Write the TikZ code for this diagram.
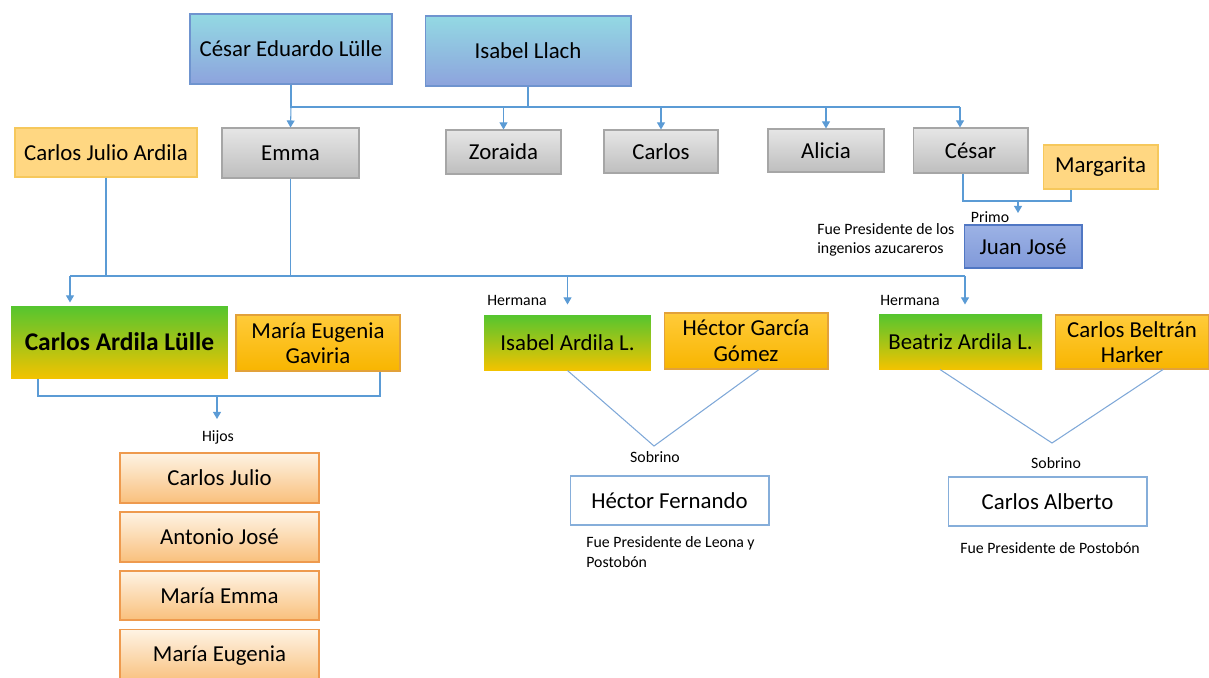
\documentclass[tikz,border=0pt]{standalone}
\usepackage{fontspec}
\setmainfont{Carlito}
\usetikzlibrary{arrows.meta}
\definecolor{linea}{HTML}{5B9BD5}
\definecolor{lineav}{HTML}{7FA8D8}
\definecolor{azulA}{HTML}{93D9E3}
\definecolor{azulB}{HTML}{8DA3DD}
\definecolor{azulborde}{HTML}{6F94CF}
\definecolor{primoA}{HTML}{9CB2E5}
\definecolor{primoB}{HTML}{8099D9}
\definecolor{primoborde}{HTML}{5077C3}
\definecolor{grisA}{HTML}{E6E6E6}
\definecolor{grisB}{HTML}{BEBEBE}
\definecolor{grisborde}{HTML}{A6A6A6}
\definecolor{crema}{HTML}{FFD782}
\definecolor{cremaborde}{HTML}{F6C85C}
\definecolor{verdeA}{HTML}{55C52F}
\definecolor{oro}{HTML}{F2C300}
\definecolor{doradoA}{HTML}{FFCB3A}
\definecolor{doradoB}{HTML}{F8B500}
\definecolor{doradoborde}{HTML}{E2A13A}
\definecolor{hijoA}{HTML}{FEF3E4}
\definecolor{hijoB}{HTML}{F9C07C}
\definecolor{hijoborde}{HTML}{EE9A4E}
\definecolor{blancoborde}{HTML}{86AEDA}

\tikzset{
  caja/.style={rectangle, inner sep=0pt, line width=0.6pt, align=center,
    font=\fontsize{13}{14.5}\selectfont},
  azul/.style={caja, draw=azulborde, top color=azulA, bottom color=azulB},
  primo/.style={caja, draw=primoborde, top color=primoA, bottom color=primoB},
  gris/.style={caja, draw=grisborde, top color=grisA, bottom color=grisB},
  cremo/.style={caja, draw=cremaborde, fill=crema},
  verde/.style={caja, top color=verdeA, bottom color=oro},
  dorado/.style={caja, draw=doradoborde, top color=doradoA, bottom color=doradoB},
  hijo/.style={caja, draw=hijoborde, top color=hijoA, bottom color=hijoB},
  blanco/.style={caja, draw=blancoborde, fill=white},
  nota/.style={inner sep=0pt, font=\fontsize{9}{11}\selectfont},
  link/.style={draw=linea, line width=0.6pt},
  arr/.style={link, -{Triangle[width=4.5pt,length=4pt]}},
  vlin/.style={draw=lineav, line width=0.6pt},
}

\begin{document}
\begin{tikzpicture}[x=0.02cm, y=-0.02cm]
\useasboundingbox (0,0) rectangle (1209,677);
% abuelos
\node (ced) at (291,49) [azul, minimum width=4.04cm, minimum height=1.40cm] {César Eduardo Lülle};
\node (isa) at (528,51) [azul, minimum width=4.12cm, minimum height=1.40cm] {Isabel Llach};
% hijos de los abuelos
\node (emma) at (290.5,153) [gris, minimum width=2.74cm, minimum height=1.00cm] {Emma};
\node (zor) at (503.5,152) [gris, minimum width=2.30cm, minimum height=0.88cm] {Zoraida};
\node (car) at (661,151.5) [gris, minimum width=2.28cm, minimum height=0.86cm] {Carlos};
\node (ali) at (826,150.5) [gris, minimum width=2.32cm, minimum height=0.86cm] {Alicia};
\node (ces) at (970.5,150.5) [gris, minimum width=2.30cm, minimum height=0.90cm] {César};
\node (mar) at (1100.5,167) [cremo, minimum width=2.30cm, minimum height=0.88cm] {Margarita};
\node (cja) at (106,152.5) [cremo, minimum width=3.64cm, minimum height=0.98cm] {Carlos Julio Ardila};
\node (jj) at (1023,246.5) [primo, minimum width=2.36cm, minimum height=0.86cm] {Juan José};
% nietos
\node (cal) at (119.5,342) [verde, minimum width=4.34cm, minimum height=1.44cm, font=\fontsize{14.5}{16}\selectfont\bfseries] {Carlos Ardila Lülle};
\node (meg) at (318,343) [dorado, minimum width=3.28cm, minimum height=1.12cm] {María Eugenia\\Gaviria};
\node (iar) at (567.5,342.5) [verde, minimum width=3.34cm, minimum height=1.10cm] {Isabel Ardila L.};
\node (hgg) at (746,341) [dorado, minimum width=3.28cm, minimum height=1.12cm] {Héctor García\\Gómez};
\node (bar) at (960.5,341.5) [verde, minimum width=3.26cm, minimum height=1.10cm] {Beatriz Ardila L.};
\node (cbh) at (1132,342) [dorado, minimum width=3.08cm, minimum height=1.08cm] {Carlos Beltrán\\Harker};
\node (hf) at (669.5,500.5) [blanco, minimum width=3.98cm, minimum height=0.98cm] {Héctor Fernando};
\node (cab) at (1047.5,501.5) [blanco, minimum width=3.98cm, minimum height=0.98cm] {Carlos Alberto};
% bisnietos
\node (k1) at (219.5,478) [hijo, minimum width=3.98cm, minimum height=1.00cm] {Carlos Julio};
\node (k2) at (219.5,537) [hijo, minimum width=3.98cm, minimum height=1.00cm] {Antonio José};
\node (k3) at (219.5,595.5) [hijo, minimum width=3.98cm, minimum height=0.98cm] {María Emma};
\node (k4) at (219.5,656) [hijo, minimum width=3.98cm, minimum height=1.06cm] {María Eugenia};
% notas
\node (primo) at (990,217) [nota] {Primo};
\node (fue1) at (817,240) [nota, anchor=west, align=left] {Fue Presidente de los\\ingenios azucareros};
\node (herm1) at (517,300) [nota] {Hermana};
\node (herm2) at (910,300) [nota] {Hermana};
\node (hijos) at (218,437) [nota] {Hijos};
\node (sob1) at (655,457) [nota] {Sobrino};
\node (sob2) at (1056,463) [nota] {Sobrino};
\node (fue2) at (586,552) [nota, anchor=west, align=left] {Fue Presidente de Leona y\\Postobón};
\node (fue3) at (1050,548) [nota] {Fue Presidente de Postobón};
% puntos de union
\coordinate (topL) at (291,107);
\coordinate (topR) at (960,107);
\coordinate (midL) at (70,276);
\coordinate (midR) at (965,276);
\coordinate (cmL) at (963,201);
\coordinate (cmR) at (1071,201);
\coordinate (cmA) at (1018,201);
\coordinate (cmT) at (1018,213);
\coordinate (cpL) at (38,396);
\coordinate (cpR) at (380,396);
\coordinate (hb) at (217,396);
\coordinate (ht) at (217,419);
\coordinate (v1) at (654,446);
\coordinate (v2) at (1052,443);
% lineas
\draw[link] (ced.south) -- (topL) -- (topR);
\draw[link] (isa.south) -- (isa.south |- topL);
\draw[arr] (topL) -- (emma.north);
\draw[arr] (zor.north |- topL) -- (zor.north);
\draw[arr] (car.north |- topL) -- (car.north);
\draw[arr] (ali.north |- topL) -- (ali.north);
\draw[arr] (topR) -- (topR |- ces.north);
\draw[link] (ces.south -| cmL) -- (cmL) -- (cmR) -- (cmR |- mar.south);
\draw[arr] (cmA) -- (cmT);
\draw[link] (cja.south) -- (cja.south |- midL);
\draw[link] (emma.south) -- (emma.south |- midL);
\draw[link] (midL) -- (midR);
\draw[arr, shorten >=0.06cm] (midL) -- (midL |- cal.north);
\draw[arr, shorten >=0.2cm] (iar.north |- midL) -- (iar.north);
\draw[arr, shorten >=0.18cm] (midR) -- (midR |- bar.north);
\draw[link] (cal.south -| cpL) -- (cpL) -- (cpR) -- (cpR |- meg.south);
\draw[arr] (hb) -- (ht);
\draw[vlin] (iar.south) -- (v1) -- ([xshift=0.26cm]hgg.south);
\draw[vlin] ([xshift=-0.41cm]bar.south) -- (v2) -- ([xshift=0.62cm]cbh.south);
\end{tikzpicture}
\end{document}
